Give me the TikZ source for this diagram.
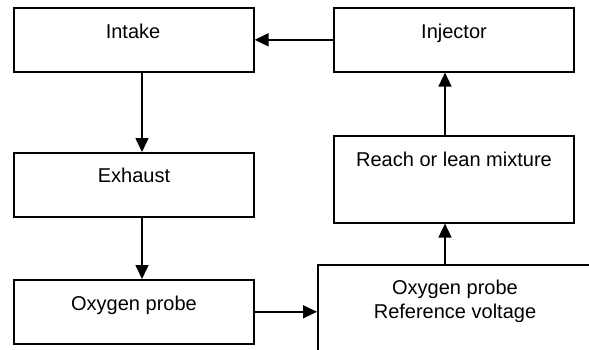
\documentclass[tikz,border=0pt]{standalone}
\usepackage{fontspec}
\setmainfont{Liberation Sans}
\usetikzlibrary{arrows.meta}
\begin{document}
\begin{tikzpicture}[x=1pt,y=-1pt,
  box/.style={draw,line width=1.6pt,minimum width=240pt,minimum height=64pt,inner sep=0pt,anchor=north west},
  txt/.style={anchor=base,inner sep=0pt,font=\fontsize{20}{24}\selectfont,align=center},
  arr/.style={line width=1.6pt,-{Triangle[length=14pt,width=13pt]}}]
\path[use as bounding box] (0,0) rectangle (589,349);
\clip (0,0) rectangle (589,349);
% boxes
\node[box] (intake) at (13,7) {};
\node[box] (injector) at (333,7) {};
\node[box] (exhaust) at (13,152) {};
\node[box] (probe) at (13,279) {};
\node[box,minimum height=87pt] (mix) at (333,135) {};
\node[box,minimum width=300pt,minimum height=120pt] (oprv) at (317,264) {};
% texts
\node[txt] (tIntake) at (133,38) {Intake};
\node[txt] (tInjector) at (454,38) {Injector};
\node[txt] (tExhaust) at (134,182) {Exhaust};
\node[txt] (tProbe) at (134,310) {Oxygen probe};
\node[txt] (tMix) at (454,166) {Reach or lean mixture};
\node[txt] (tOprv1) at (455,294) {Oxygen probe};
\node[txt] (tOprv2) at (455,318) {Reference voltage};
% connectors
\coordinate (colL) at (142,0);
\coordinate (colR) at (445,0);
\draw[arr] (injector.west) -- (intake.east);
\draw[arr] (intake.south -| colL) -- (exhaust.north -| colL);
\draw[arr] (exhaust.south -| colL) -- (probe.north -| colL);
\draw[arr] (probe.east) -- (oprv.west |- probe.east);
\draw[arr] (oprv.north -| colR) -- (mix.south -| colR);
\draw[arr] (mix.north -| colR) -- (injector.south -| colR);
\end{tikzpicture}
\end{document}
